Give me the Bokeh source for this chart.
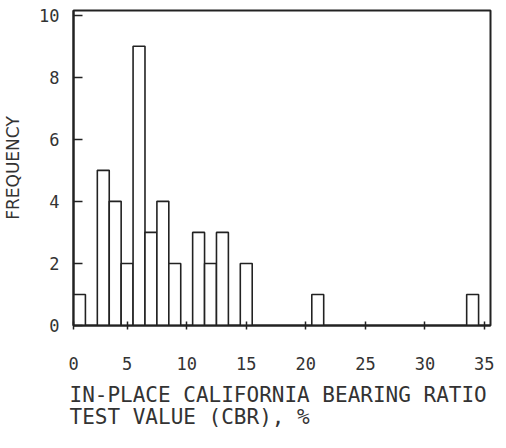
from bokeh.plotting import figure
from bokeh.models import Range1d, FixedTicker, Title, ColumnDataSource
from bokeh.embed import file_html
from bokeh.resources import INLINE

# Data
cbr_values = [1, 3, 4, 5, 6, 7, 8, 9, 11, 12, 13, 15, 21, 34]
frequencies = [1, 5, 4, 2, 9, 3, 4, 2, 3, 2, 3, 2, 1, 1]
x_ticks = [0.5, 5, 10, 15, 20, 25, 30, 35]
x_tick_labels = {0.5: "0"}
y_ticks = [0, 2, 4, 6, 8, 10]
x_title = "IN-PLACE CALIFORNIA BEARING RATIO\nTEST VALUE (CBR), %"
y_title = "FREQUENCY"

INK = "#222222"
TXT = "#333333"

src = ColumnDataSource(dict(x=cbr_values, top=frequencies))

p = figure(width=494, height=440,
           x_range=Range1d(0.5, 35.5), y_range=Range1d(0, 10.15),
           output_backend="svg", toolbar_location=None,
           min_border_left=69, min_border_right=4, min_border_top=10,
           min_border_bottom=115)

p.vbar(x="x", top="top", width=1, bottom=0, source=src,
       fill_color="white", line_color=INK, line_width=1.6)

p.outline_line_color = INK
p.outline_line_width = 2
p.outline_line_alpha = 1
p.grid.grid_line_color = None
p.background_fill_color = "white"
p.border_fill_color = "white"

xa = p.xaxis[0]
xa.ticker = FixedTicker(ticks=x_ticks)
xa.major_label_overrides = x_tick_labels
xa.axis_line_color = INK
xa.axis_line_width = 2
xa.major_tick_in = 4
xa.major_tick_out = 4
xa.major_tick_line_color = INK
xa.major_tick_line_width = 1.5
xa.minor_tick_line_color = None
xa.major_label_standoff = 27
xa.major_label_text_font = "DejaVu Sans Mono"
xa.major_label_text_font_size = "17px"
xa.major_label_text_color = TXT

ya = p.yaxis[0]
ya.ticker = FixedTicker(ticks=y_ticks)
ya.axis_line_color = INK
ya.axis_line_width = 2
ya.major_tick_in = 9
ya.major_tick_out = 0
ya.major_tick_line_color = INK
ya.major_tick_line_width = 1.5
ya.minor_tick_line_color = None
ya.major_label_standoff = 14
ya.major_label_text_font = "DejaVu Sans Mono"
ya.major_label_text_font_size = "17px"
ya.major_label_text_color = TXT
ya.axis_label = y_title
ya.axis_label_text_font = "DejaVu Sans"
ya.axis_label_text_font_size = "17px"
ya.axis_label_text_font_style = "normal"
ya.axis_label_text_color = TXT
ya.axis_label_standoff = 13

p.add_layout(Title(text=x_title, align="left", text_font="DejaVu Sans Mono",
                   text_font_size="21px", text_font_style="normal",
                   text_line_height=0.92,
                   text_color=TXT, standoff=17, offset=-4), "below")

open("out.html", "w").write(file_html(p, INLINE))
